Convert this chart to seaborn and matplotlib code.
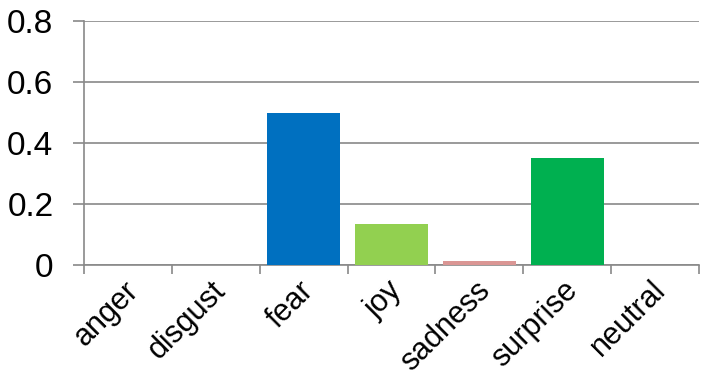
import matplotlib
matplotlib.use("Agg")
import matplotlib.pyplot as plt
import matplotlib.transforms as mtransforms
import seaborn as sns
import pandas as pd

categories = ["anger", "disgust", "fear", "joy", "sadness", "surprise", "neutral"]
values = [0.0, 0.0, 0.5, 0.134, 0.014, 0.351, 0.0]
bar_colors = ["#0070C0", "#0070C0", "#0070C0", "#92D050", "#DA9694", "#00B050", "#0070C0"]
y_ticks = [0, 0.2, 0.4, 0.6, 0.8]
y_tick_labels = ["0", "0.2", "0.4", "0.6", "0.8"]

sns.set_style("ticks")
plt.rcParams["font.family"] = ["Liberation Sans", "DejaVu Sans"]
plt.rcParams["text.color"] = "black"

df = pd.DataFrame({"cat": categories, "val": values})

fig = plt.figure(figsize=(7.05, 3.83), dpi=100)
ax = fig.add_axes([84 / 705, 1 - 265 / 383, (699 - 84) / 705, (265 - 21) / 383])

sns.barplot(data=df, x="cat", y="val", hue="cat", palette=bar_colors,
            legend=False, width=0.83, saturation=1, linewidth=0, ax=ax, zorder=3)

grid_c = "#898989"
ax.set_xlim(-0.5, 6.5)
ax.set_ylim(0, 0.8)
ax.set_yticks(y_ticks)
ax.set_yticklabels(y_tick_labels, fontsize=24, color="black")
ax.yaxis.grid(True, color=grid_c, linewidth=1.2, zorder=0)
ax.set_axisbelow(True)
ax.tick_params(axis="y", which="major", left=True, length=8, width=1.2, color=grid_c,
               labelcolor="black", direction="out", pad=14)

ax.set_xticks(range(len(categories)))
ax.set_xticklabels(categories, fontsize=22, rotation=45, ha="right", va="center",
                   rotation_mode="anchor", color="black")
ax.tick_params(axis="x", which="major", bottom=True, length=0, pad=15)
ax.set_xticks([i - 0.5 for i in range(len(categories) + 1)], minor=True)
ax.tick_params(axis="x", which="minor", bottom=True, length=6.5, width=1.2,
               color=grid_c, direction="out")
offset = mtransforms.ScaledTranslation(6 / 100, 0, fig.dpi_scale_trans)
for lbl in ax.get_xticklabels():
    lbl.set_transform(lbl.get_transform() + offset)

for s in ["top", "right"]:
    ax.spines[s].set_visible(False)
for s in ["left", "bottom"]:
    ax.spines[s].set_color(grid_c)
    ax.spines[s].set_linewidth(1.2)
ax.set_xlabel("")
ax.set_ylabel("")

fig.savefig("out.png", dpi=100)
